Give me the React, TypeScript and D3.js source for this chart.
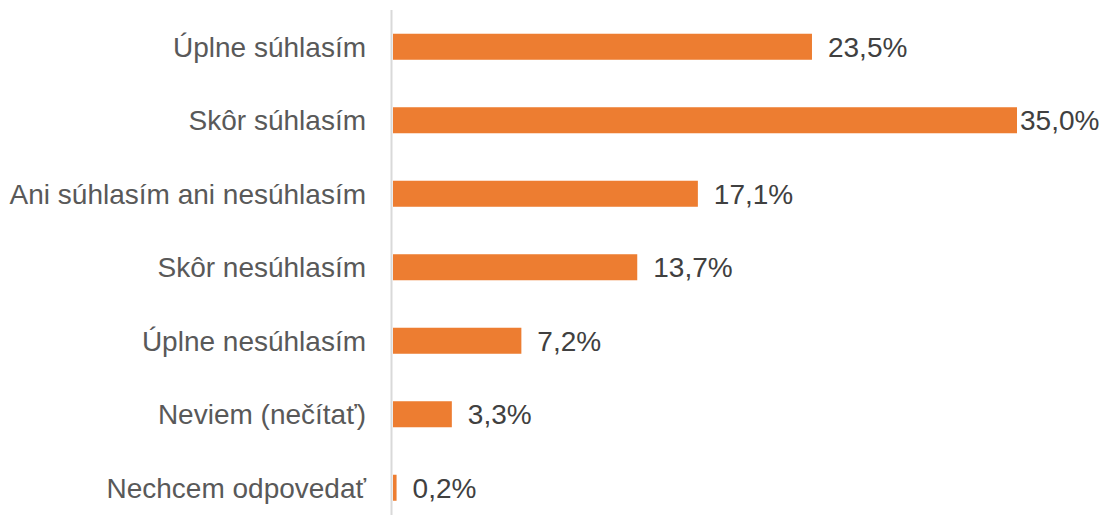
import React from 'react';
import * as d3 from 'd3';

const categories = [
  'Úplne súhlasím',
  'Skôr súhlasím',
  'Ani súhlasím ani nesúhlasím',
  'Skôr nesúhlasím',
  'Úplne nesúhlasím',
  'Neviem (nečítať)',
  'Nechcem odpovedať',
];
const values = [23.5, 35.0, 17.1, 13.7, 7.2, 3.3, 0.2];

const width = 1102;
const height = 515;
const font = '"Liberation Sans", Arial, sans-serif';

export default function App() {
  const x = d3.scaleLinear().domain([0, 35]).range([393, 1017]);
  const y = d3.scaleBand<string>().domain(categories).range([10, 524.5]).paddingInner(0.646).paddingOuter(0.323);
  const fmt = (v: number) => v.toFixed(1).replace('.', ',') + '%';
  const maxV = d3.max(values) as number;

  return (
    <svg width={width} height={height} style={{ position: 'absolute', left: 0, top: 0, background: '#fff' }}>
      <line x1={391.5} x2={391.5} y1={10} y2={height} stroke="#d9d9d9" strokeWidth={2} />
      {categories.map((c, i) => {
        const yc = (y(c) as number) + y.bandwidth() / 2;
        const end = x(values[i]);
        // label sits 16px past the bar, except the longest one, which is squeezed by the edge
        const lx = values[i] === maxV ? end + 3 : end + 16;
        return (
          <g key={c}>
            <text x={366} y={yc} dy="0.35em" textAnchor="end" fontFamily={font} fontSize={28} fill="#595959">
              {c}
            </text>
            <rect x={x(0)} y={y(c)} width={end - x(0)} height={y.bandwidth()} fill="#ed7d31" />
            <text x={lx} y={yc} dy="0.35em" fontFamily={font} fontSize={28} fill="#404040">
              {fmt(values[i])}
            </text>
          </g>
        );
      })}
    </svg>
  );
}
